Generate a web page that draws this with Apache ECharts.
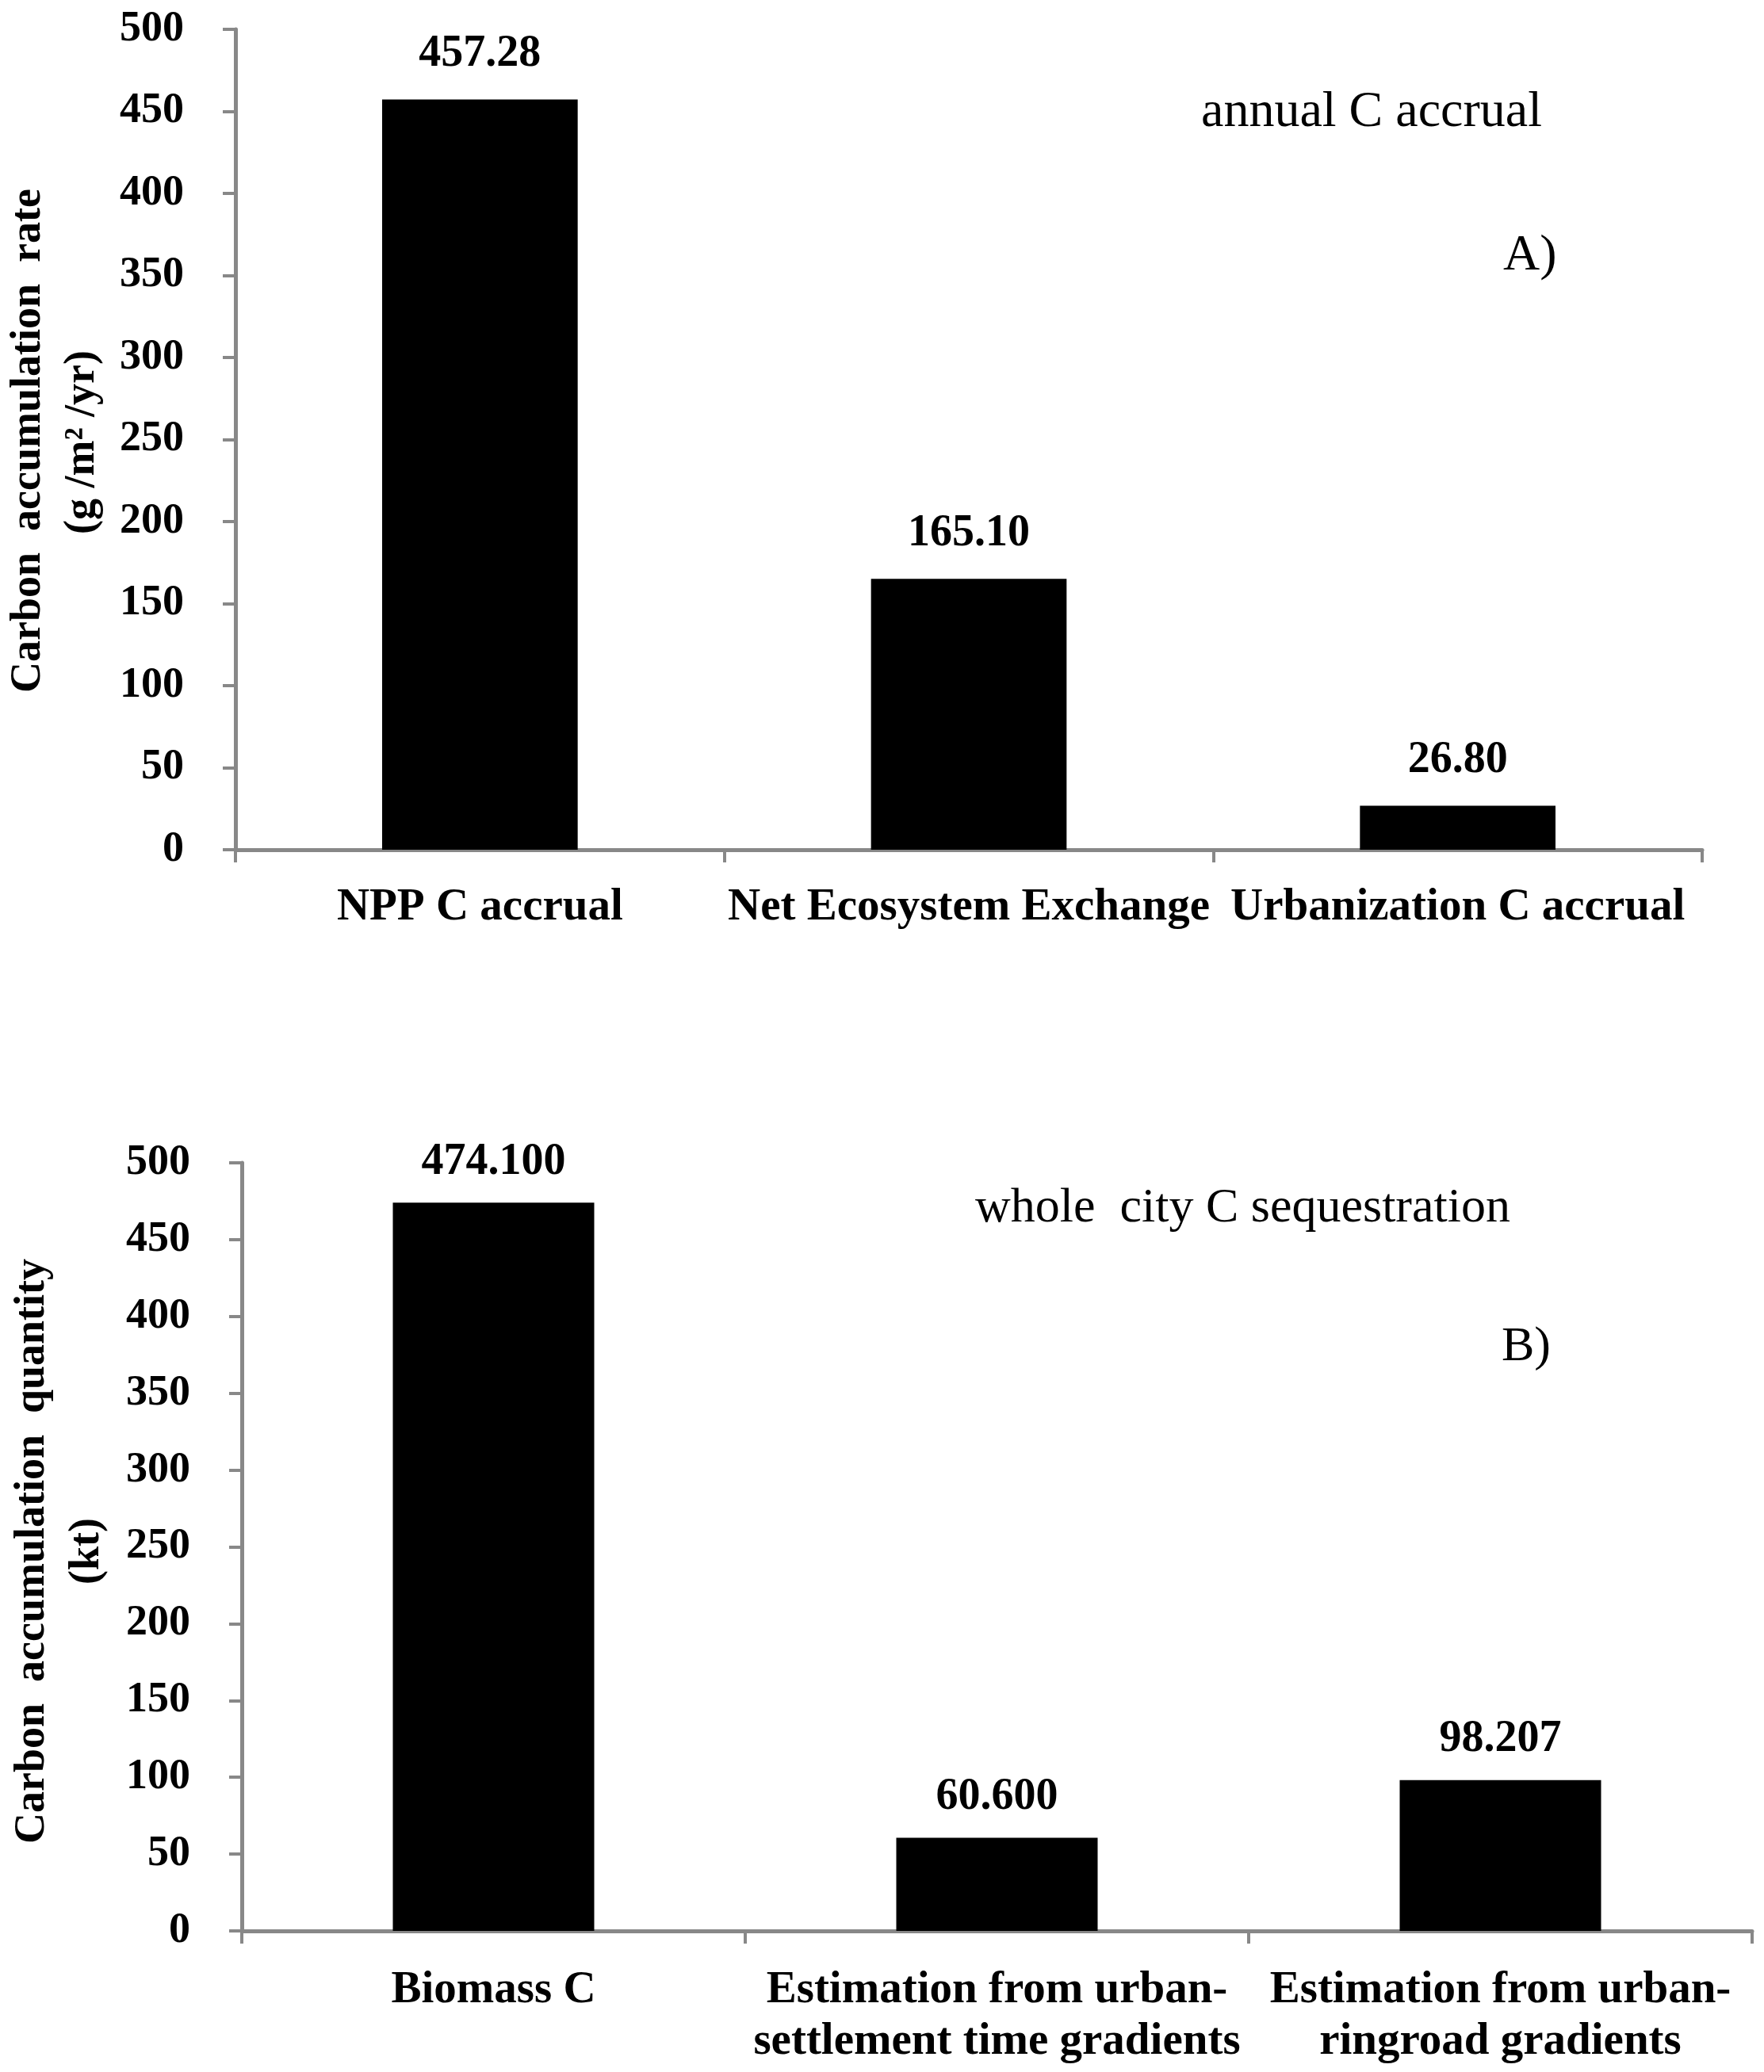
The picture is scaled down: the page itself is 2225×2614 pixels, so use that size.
<!DOCTYPE html>
<html>
<head>
<meta charset="utf-8">
<script src="https://cdn.jsdelivr.net/npm/echarts@6/dist/echarts.min.js"></script>
<style>
html,body{margin:0;padding:0;background:#fff;}
#c{width:2225px;height:2614px;}
</style>
</head>
<body>
<div id="c"></div>
<script>
// ---- data ----
const catsA = ['NPP C accrual', 'Net Ecosystem Exchange', 'Urbanization C accrual'];
const valsA = [457.28, 165.10, 26.80];
const decimalsA = 2;

const catsB = ['Biomass C', 'Estimation from urban-\nsettlement time gradients', 'Estimation from urban-\nringroad gradients'];
const valsB = [474.100, 60.600, 98.207];
const decimalsB = 3;

const yMin = 0, yMax = 500, yStep = 50;

const yTitleA = ['Carbon  accumulation  rate', '(g /m\u00B2 /yr)'];
const yTitleB = ['Carbon  accumulation  quantity', '(kt)'];
const noteA = ['annual C accrual', 'A)'];
const noteB = ['whole  city C sequestration', 'B)'];

// ---- style ----
const FF = '"Liberation Serif", "Times New Roman", serif';
const AX = '#888888';

function xAxisOf(idx, cats, margin) {
  return {
    type: 'category', gridIndex: idx, data: cats,
    axisLine: { show: true, lineStyle: { color: AX, width: 5 } },
    axisTick: { show: true, length: 16, interval: 0, lineStyle: { color: AX, width: 4 } },
    axisLabel: { interval: 0, margin: margin, fontFamily: FF, fontWeight: 'bold', fontSize: 57, lineHeight: 65, color: '#000' },
    splitLine: { show: false }
  };
}
function yAxisOf(idx) {
  return {
    type: 'value', gridIndex: idx, min: yMin, max: yMax, interval: yStep,
    axisLine: { show: true, lineStyle: { color: AX, width: 5 } },
    axisTick: { show: true, length: 16, lineStyle: { color: AX, width: 4 } },
    axisLabel: { margin: 65, fontFamily: FF, fontWeight: 'bold', fontSize: 54, color: '#000' },
    splitLine: { show: false }
  };
}
function barOf(idx, vals, dec, dist) {
  return {
    type: 'bar', xAxisIndex: idx, yAxisIndex: idx, data: vals, barWidth: '40%',
    itemStyle: { color: '#000' },
    label: {
      show: true, position: 'top', distance: dist,
      formatter: p => Number(p.value).toFixed(dec),
      fontFamily: FF, fontWeight: 'bold', fontSize: 56, lineHeight: 56, color: '#000'
    }
  };
}
function vText(x, y, text) {
  return { type: 'text', x: x, y: y, rotation: Math.PI / 2,
    style: { text: text, fontFamily: FF, fontWeight: 'bold', fontSize: 54, fill: '#000', align: 'center', verticalAlign: 'middle' } };
}
function hText(x, y, text, size) {
  return { type: 'text', x: x, y: y,
    style: { text: text, fontFamily: FF, fontWeight: 'normal', fontSize: size, fill: '#000', align: 'left', verticalAlign: 'middle' } };
}

const chart = echarts.init(document.getElementById('c'), null, { renderer: 'canvas' });
chart.setOption({
  animation: false,
  backgroundColor: '#fff',
  grid: [
    { left: 297, top: 37, width: 1850, height: 1035, containLabel: false, outerBoundsMode: 'none' },
    { left: 305, top: 1467, width: 1905, height: 969, containLabel: false, outerBoundsMode: 'none' }
  ],
  xAxis: [xAxisOf(0, catsA, 41), xAxisOf(1, catsB, 43)],
  yAxis: [yAxisOf(0), yAxisOf(1)],
  series: [barOf(0, valsA, decimalsA, 29), barOf(1, valsB, decimalsB, 23)],
  graphic: [
    vText(36, 556, yTitleA[0]),
    vText(104, 558, yTitleA[1]),
    vText(41, 1957, yTitleB[0]),
    vText(110, 1957, yTitleB[1]),
    hText(1515, 142, noteA[0], 64),
    hText(1896, 323, noteA[1], 64),
    hText(1230, 1525, noteB[0], 62),
    hText(1894, 1700, noteB[1], 62)
  ]
});
</script>
</body>
</html>
